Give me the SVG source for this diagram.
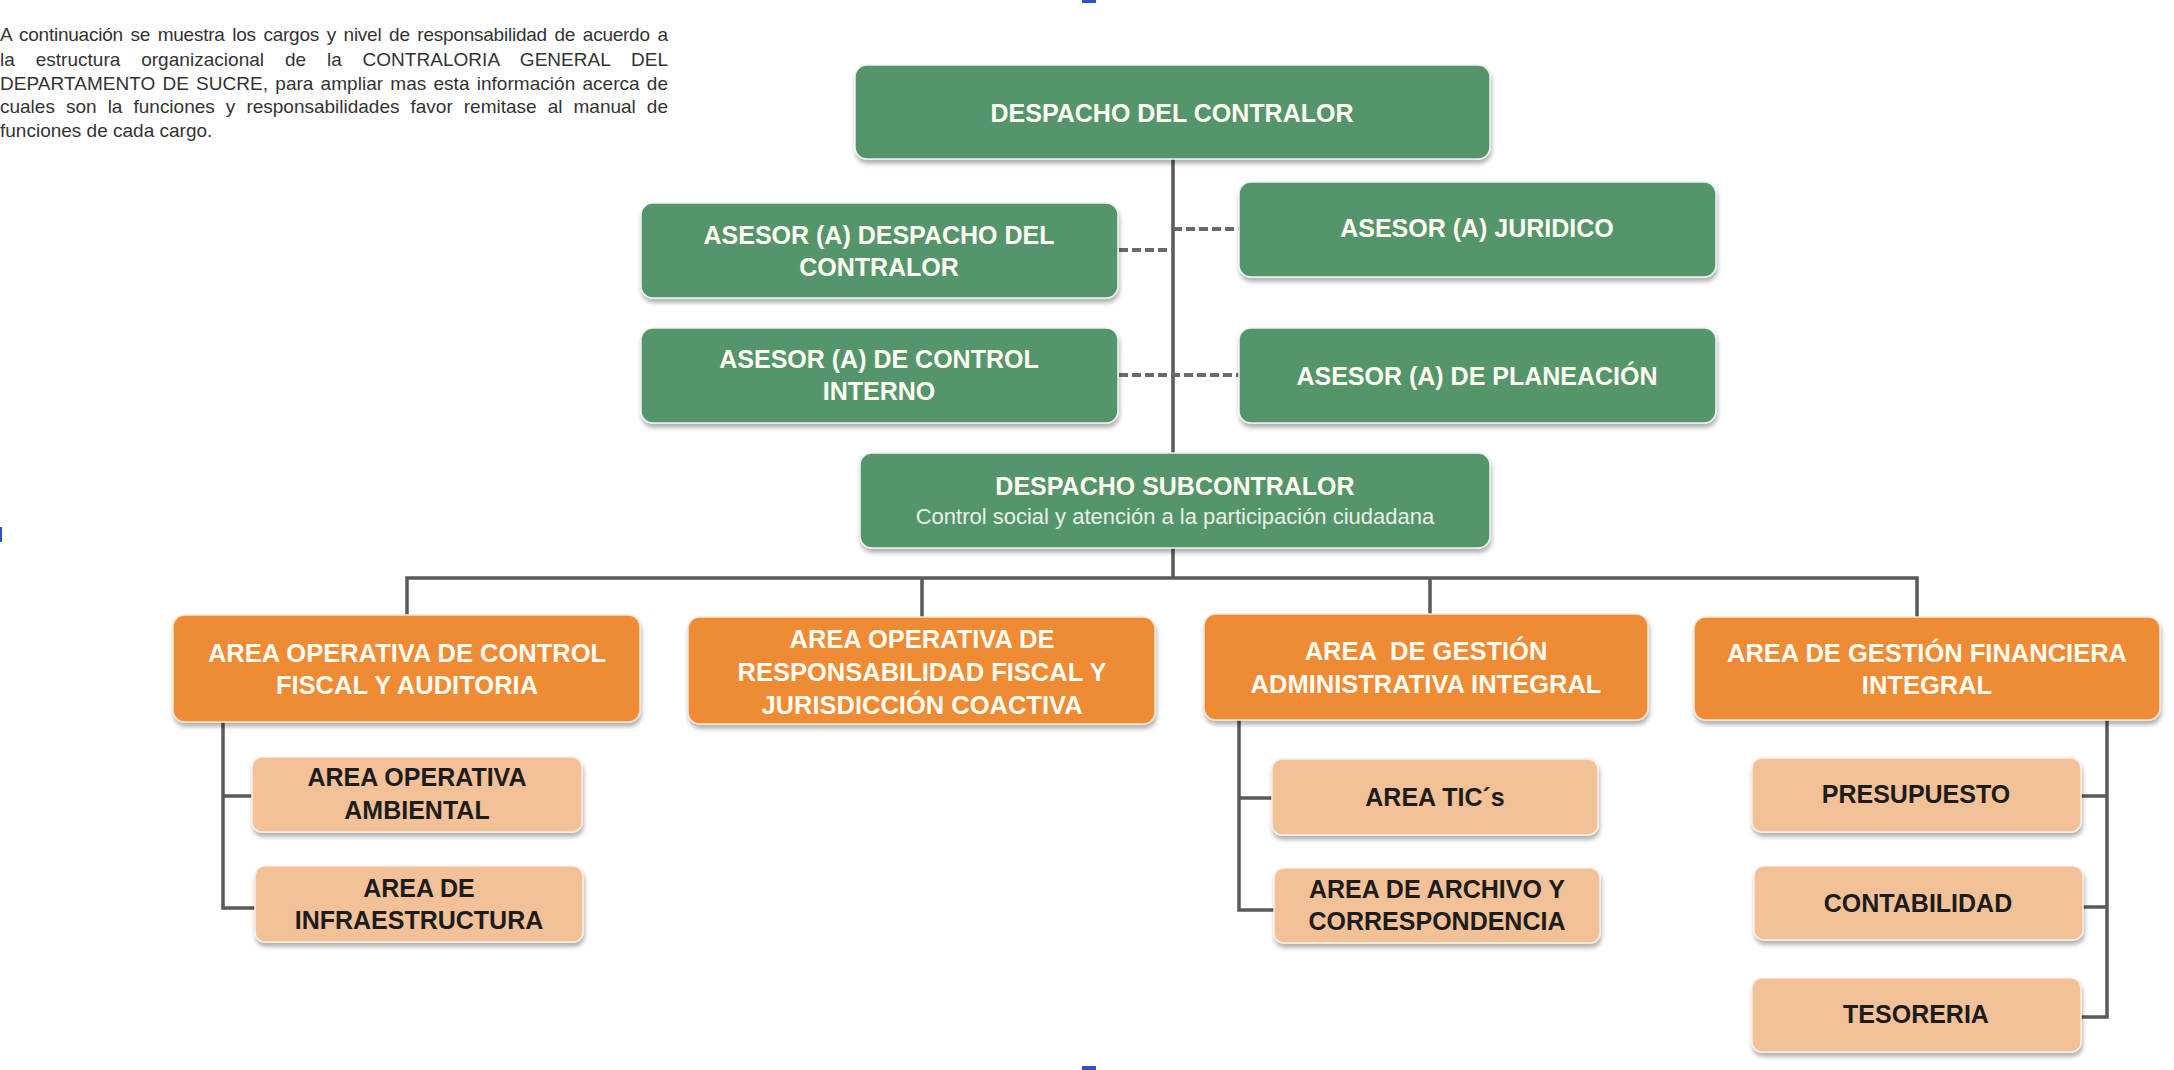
<svg xmlns="http://www.w3.org/2000/svg" width="2174" height="1070" viewBox="0 0 2174 1070">
<defs>
<filter id="sh" x="-5%" y="-10%" width="110%" height="130%">
<feDropShadow dx="1" dy="4" stdDeviation="2" flood-color="#000" flood-opacity="0.3"/>
</filter>
<style>
.g{fill:#55956c;stroke:#eef3ee;stroke-width:1.5;filter:url(#sh)}
.o{fill:#ef8a34;stroke:#fbe6d3;stroke-width:1.5;filter:url(#sh)}
.l{fill:#f2c197;stroke:#fbeee2;stroke-width:1.5;filter:url(#sh)}
.tw{font-family:"Liberation Sans",Arial,sans-serif;font-weight:bold;fill:#fffdf2;text-anchor:middle}
.tg{font-size:25px}
.to{font-size:25.5px}
.td{font-family:"Liberation Sans",Arial,sans-serif;font-weight:bold;fill:#1c1c1c;text-anchor:middle;font-size:25px}
.sub{font-family:"Liberation Sans",Arial,sans-serif;fill:#e8f0e6;text-anchor:middle;font-size:22px}
.intro{font-family:"Liberation Sans",Arial,sans-serif;fill:#333;font-size:19px}
.c{fill:none;stroke:#5a5a5a;stroke-width:3.5}
.d{fill:none;stroke:#6a6a6a;stroke-width:4;stroke-dasharray:9 4}
</style>
</defs>
<rect width="2174" height="1070" fill="#fff"/>
<rect x="1082" y="0" width="14" height="3" fill="#2a55c8"/>
<rect x="0" y="527" width="2" height="15" fill="#2a55c8"/>
<rect x="1082" y="1066" width="14" height="4" fill="#2a55c8"/>
<g id="intro">
<text class="intro" x="0" y="41" word-spacing="2.6" textLength="668" lengthAdjust="spacing">A continuación se muestra los cargos y nivel de responsabilidad de acuerdo a</text>
<text class="intro" x="0" y="66" word-spacing="15.5" textLength="668" lengthAdjust="spacing">la estructura organizacional de la CONTRALORIA GENERAL DEL</text>
<text class="intro" x="0" y="90" word-spacing="1.8" textLength="668" lengthAdjust="spacing">DEPARTAMENTO DE SUCRE, para ampliar mas esta información acerca de</text>
<text class="intro" x="0" y="113" word-spacing="5.8" textLength="668" lengthAdjust="spacing">cuales son la funciones y responsabilidades favor remitase al manual de</text>
<text class="intro" x="0" y="137">funciones de cada cargo.</text>
</g>
<g id="connectors">
<path class="c" d="M1173 159 V453 M1173 548 V578"/>
<path class="c" d="M407 616 V578 H1917 V617 M922 578 V618 M1430 578 V614"/>
<path class="c" d="M223 722 V908 H256 M223 796 H253"/>
<path class="c" d="M1239 720 V910 H1275 M1239 798 H1273"/>
<path class="c" d="M2107 720 V1017 H2081 M2083 907 H2107 M2081 796 H2107"/>
<path class="d" d="M1119 250 H1173 M1173 229 H1239 M1119 375 H1239"/>
</g>
<g id="despacho-contralor">
<rect class="g" x="855" y="65" width="635" height="94" rx="12"/>
<text class="tw tg" x="1172" y="122">DESPACHO DEL CONTRALOR</text>
</g>
<g id="asesor-despacho">
<rect class="g" x="641" y="203" width="477" height="95" rx="12"/>
<text class="tw tg" x="879" y="244">ASESOR (A) DESPACHO DEL</text>
<text class="tw tg" x="879" y="276">CONTRALOR</text>
</g>
<g id="asesor-juridico">
<rect class="g" x="1239" y="182" width="477" height="95" rx="12"/>
<text class="tw tg" x="1477" y="237">ASESOR (A) JURIDICO</text>
</g>
<g id="asesor-control-interno">
<rect class="g" x="641" y="328" width="477" height="95" rx="12"/>
<text class="tw tg" x="879" y="368">ASESOR (A) DE CONTROL</text>
<text class="tw tg" x="879" y="400">INTERNO</text>
</g>
<g id="asesor-planeacion">
<rect class="g" x="1239" y="328" width="477" height="95" rx="12"/>
<text class="tw tg" x="1477" y="385">ASESOR (A) DE PLANEACIÓN</text>
</g>
<g id="despacho-subcontralor">
<rect class="g" x="860" y="453" width="630" height="95" rx="12"/>
<text class="tw tg" x="1175" y="495">DESPACHO SUBCONTRALOR</text>
<text class="sub" x="1175" y="524">Control social y atención a la participación ciudadana</text>
</g>
<g id="area-control-fiscal">
<rect class="o" x="173" y="615" width="467" height="107" rx="12"/>
<text class="tw to" x="407" y="662">AREA OPERATIVA DE CONTROL</text>
<text class="tw to" x="407" y="694">FISCAL Y AUDITORIA</text>
</g>
<g id="area-responsabilidad-fiscal">
<rect class="o" x="688" y="617" width="467" height="107" rx="12"/>
<text class="tw to" x="922" y="648">AREA OPERATIVA DE</text>
<text class="tw to" x="922" y="681">RESPONSABILIDAD FISCAL Y</text>
<text class="tw to" x="922" y="714">JURISDICCIÓN COACTIVA</text>
</g>
<g id="area-gestion-administrativa">
<rect class="o" x="1204" y="614" width="444" height="106" rx="12"/>
<text class="tw to" x="1426" y="660" xml:space="preserve">AREA  DE GESTIÓN</text>
<text class="tw to" x="1426" y="693">ADMINISTRATIVA INTEGRAL</text>
</g>
<g id="area-gestion-financiera">
<rect class="o" x="1694" y="617" width="466" height="103" rx="12"/>
<text class="tw to" x="1927" y="662">AREA DE GESTIÓN FINANCIERA</text>
<text class="tw to" x="1927" y="694">INTEGRAL</text>
</g>
<g id="area-ambiental">
<rect class="l" x="252" y="757" width="330" height="75" rx="10"/>
<text class="td" x="417" y="786">AREA OPERATIVA</text>
<text class="td" x="417" y="819">AMBIENTAL</text>
</g>
<g id="area-infraestructura">
<rect class="l" x="255" y="866" width="328" height="76" rx="10"/>
<text class="td" x="419" y="897">AREA DE</text>
<text class="td" x="419" y="929">INFRAESTRUCTURA</text>
</g>
<g id="area-tics">
<rect class="l" x="1272" y="759" width="326" height="76" rx="10"/>
<text class="td" x="1435" y="806">AREA TIC´s</text>
</g>
<g id="area-archivo">
<rect class="l" x="1274" y="868" width="326" height="75" rx="10"/>
<text class="td" x="1437" y="898">AREA DE ARCHIVO Y</text>
<text class="td" x="1437" y="930">CORRESPONDENCIA</text>
</g>
<g id="presupuesto">
<rect class="l" x="1752" y="758" width="329" height="74" rx="10"/>
<text class="td" x="1916" y="803">PRESUPUESTO</text>
</g>
<g id="contabilidad">
<rect class="l" x="1754" y="866" width="329" height="74" rx="10"/>
<text class="td" x="1918" y="912">CONTABILIDAD</text>
</g>
<g id="tesoreria">
<rect class="l" x="1752" y="978" width="329" height="74" rx="10"/>
<text class="td" x="1916" y="1023">TESORERIA</text>
</g>
</svg>
